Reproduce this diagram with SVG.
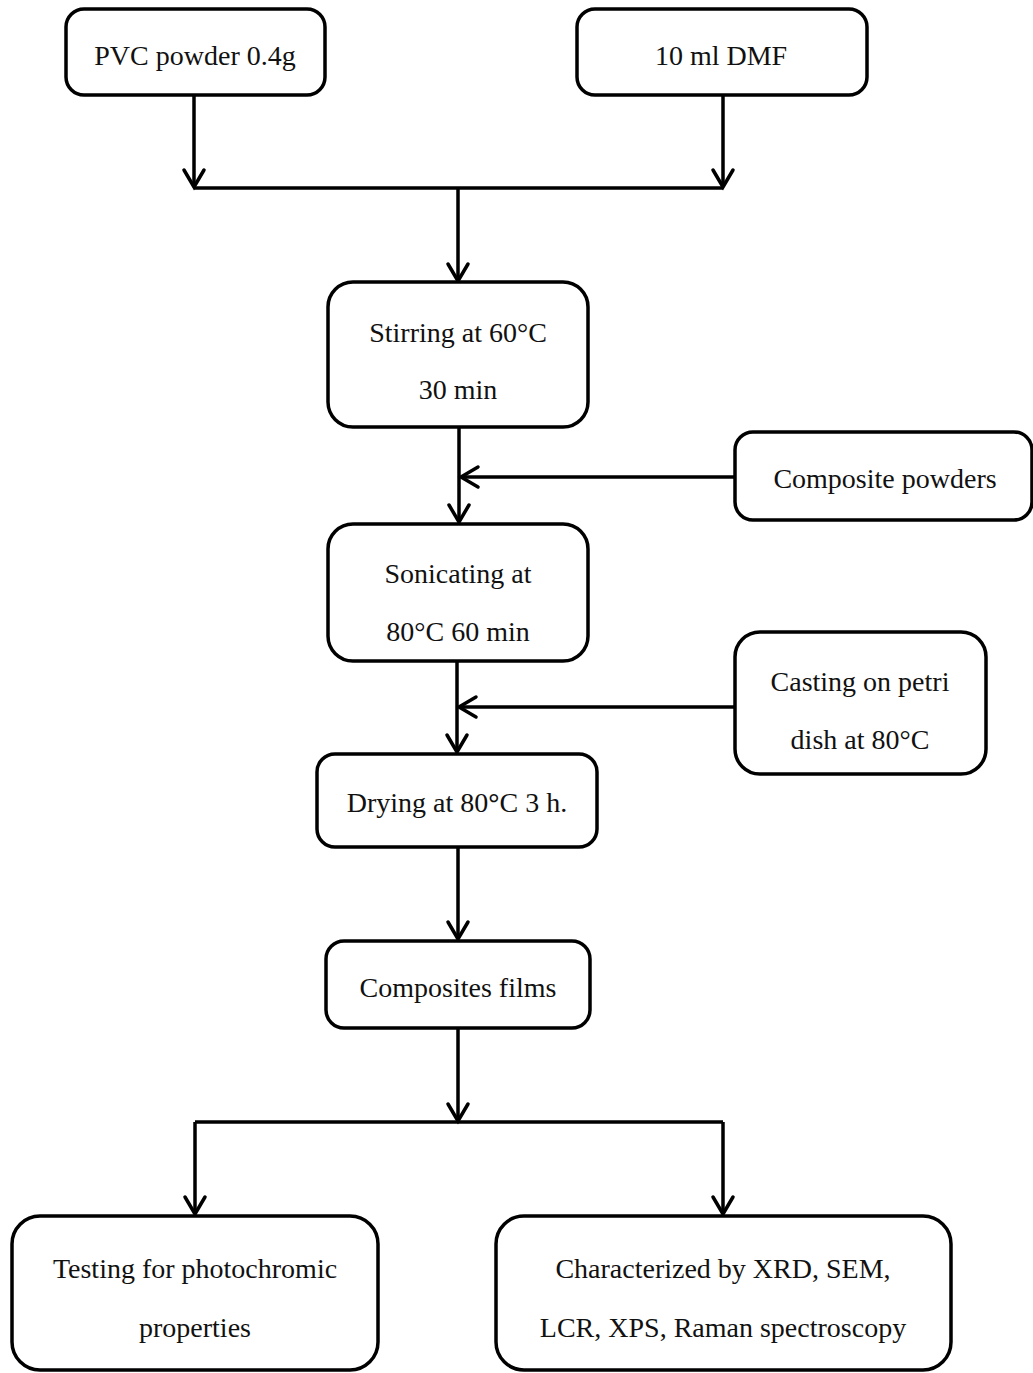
<svg xmlns="http://www.w3.org/2000/svg" width="1033" height="1373" viewBox="0 0 1033 1373">
  <style>
    .box { fill: #fff; stroke: #000; stroke-width: 3.5; }
    .lbl { font-family: "Liberation Serif", "Times New Roman", serif; font-size: 28px; fill: #111; text-anchor: middle; }
    .wire { fill: none; stroke: #000; stroke-width: 3.5; }
  </style>
  <defs>
    <marker id="arrow" markerUnits="userSpaceOnUse" viewBox="0 0 24 24" markerWidth="24" markerHeight="24" refX="20" refY="12" orient="auto" overflow="visible">
      <path d="M3,2 L20,12 L3,22" fill="none" stroke="#000" stroke-width="3.5" stroke-linecap="round"/>
    </marker>
  </defs>
  <rect width="1033" height="1373" fill="#fff"/>

  <!-- flow connectors -->
  <g id="connectors">
    <path class="wire" d="M194,95 V187" marker-end="url(#arrow)"/>
    <path class="wire" d="M723,95 V187" marker-end="url(#arrow)"/>
    <path class="wire" d="M194,188 H723"/>
    <path class="wire" d="M458,188 V281" marker-end="url(#arrow)"/>
    <path class="wire" d="M459,427 V522" marker-end="url(#arrow)"/>
    <path class="wire" d="M735,477 H461" marker-end="url(#arrow)"/>
    <path class="wire" d="M457,661 V752" marker-end="url(#arrow)"/>
    <path class="wire" d="M735,707 H459" marker-end="url(#arrow)"/>
    <path class="wire" d="M458,847 V939" marker-end="url(#arrow)"/>
    <path class="wire" d="M458,1028 V1121" marker-end="url(#arrow)"/>
    <path class="wire" d="M195,1122 H723"/>
    <path class="wire" d="M195,1122 V1214" marker-end="url(#arrow)"/>
    <path class="wire" d="M723,1122 V1214" marker-end="url(#arrow)"/>
  </g>

  <g id="pvc">
    <rect class="box" x="66" y="9" width="259" height="86" rx="18"/>
    <text class="lbl" x="195" y="65">PVC powder 0.4g</text>
  </g>
  <g id="dmf">
    <rect class="box" x="577" y="9" width="290" height="86" rx="18"/>
    <text class="lbl" x="721" y="65">10 ml DMF</text>
  </g>
  <g id="stirring">
    <rect class="box" x="328" y="282" width="260" height="145" rx="25"/>
    <text class="lbl" x="458" y="342">Stirring at 60°C</text>
    <text class="lbl" x="458" y="399">30 min</text>
  </g>
  <g id="composite-powders">
    <rect class="box" x="735" y="432" width="297" height="88" rx="18"/>
    <text class="lbl" x="885" y="488">Composite powders</text>
  </g>
  <g id="sonicating">
    <rect class="box" x="328" y="524" width="260" height="137" rx="25"/>
    <text class="lbl" x="458" y="583">Sonicating at</text>
    <text class="lbl" x="458" y="641">80°C 60 min</text>
  </g>
  <g id="casting">
    <rect class="box" x="735" y="632" width="251" height="142" rx="25"/>
    <text class="lbl" x="860" y="691">Casting on petri</text>
    <text class="lbl" x="860" y="749">dish at 80°C</text>
  </g>
  <g id="drying">
    <rect class="box" x="317" y="754" width="280" height="93" rx="18"/>
    <text class="lbl" x="457" y="812">Drying at 80<tspan font-weight="bold">°</tspan>C 3 h.</text>
  </g>
  <g id="films">
    <rect class="box" x="326" y="941" width="264" height="87" rx="18"/>
    <text class="lbl" x="458" y="997">Composites films</text>
  </g>
  <g id="testing">
    <rect class="box" x="12" y="1216" width="366" height="154" rx="28"/>
    <text class="lbl" x="195" y="1278">Testing for photochromic</text>
    <text class="lbl" x="195" y="1337">properties</text>
  </g>
  <g id="characterized">
    <rect class="box" x="496" y="1216" width="455" height="154" rx="28"/>
    <text class="lbl" x="723" y="1278">Characterized by XRD, SEM,</text>
    <text class="lbl" x="723" y="1337">LCR, XPS, Raman spectroscopy</text>
  </g>
</svg>
